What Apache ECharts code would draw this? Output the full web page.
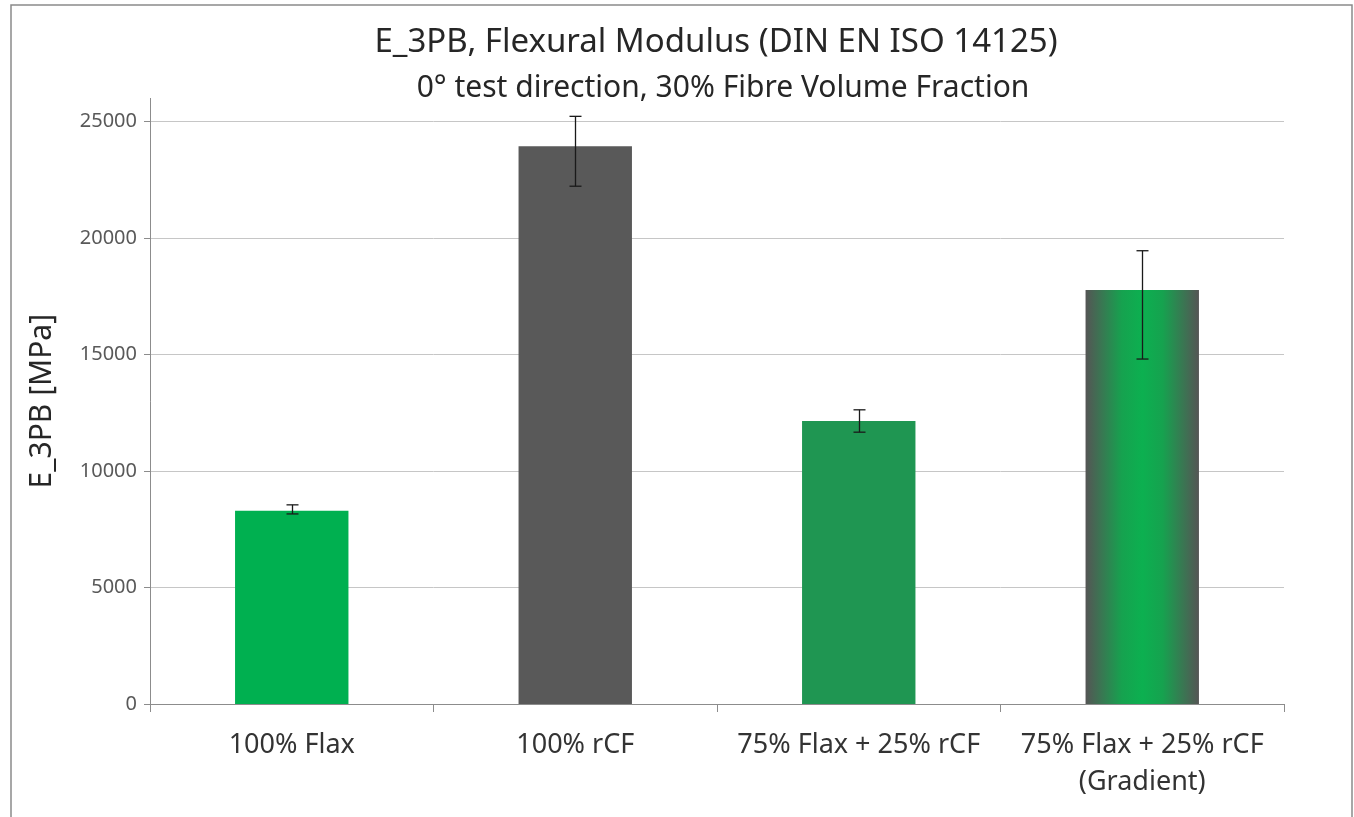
<!DOCTYPE html>
<html>
<head>
<meta charset="utf-8">
<title>E_3PB, Flexural Modulus</title>
<script src="https://cdn.jsdelivr.net/npm/echarts@6/dist/echarts.min.js"></script>
<style>
  html, body { margin: 0; padding: 0; background: #ffffff; }
  #chart { width: 1354px; height: 817px; }
</style>
</head>
<body>
<div id="chart"></div>
<script>
// Flexural modulus by laminate layup (MPa), with upper / lower error extents
const categories = ['100% Flax', '100% rCF', '75% Flax + 25% rCF', '75% Flax + 25% rCF\n(Gradient)'];
const modulus = [8300, 23950, 12150, 17770];
const errPlus = [250, 1280, 480, 1690];
const errMinus = [140, 1720, 480, 2960];
const yTicks = [0, 5000, 10000, 15000, 20000, 25000];

const FONT = '"Noto Sans", "Open Sans", sans-serif';
const GREEN = '#00b050';
const GREY = '#595959';
const DARK_GREEN = '#1f9652';

const barColors = [
  GREEN,
  GREY,
  DARK_GREEN,
  new echarts.graphic.LinearGradient(0, 0, 1, 0, [
    { offset: 0, color: '#555555' },
    { offset: 0.32, color: '#16a24f' },
    { offset: 0.5, color: '#0cb050' },
    { offset: 0.68, color: '#16a24f' },
    { offset: 1, color: '#555555' }
  ])
];

const chart = echarts.init(document.getElementById('chart'), null, { renderer: 'canvas' });

chart.setOption({
  backgroundColor: '#ffffff',
  animation: false,
  title: [
    {
      text: 'E_3PB, Flexural Modulus (DIN EN ISO 14125)',
      left: 711, top: 21, textAlign: 'center',
      textStyle: { fontFamily: FONT, fontSize: 33, fontWeight: 'normal', color: '#262626' }
    },
    {
      text: '0° test direction, 30% Fibre Volume Fraction',
      left: 718, top: 68, textAlign: 'center',
      textStyle: { fontFamily: FONT, fontSize: 30, fontWeight: 'normal', color: '#262626' }
    }
  ],
  graphic: [
    {
      type: 'rect',
      shape: { x: 11, y: 5, width: 1341, height: 816 },
      style: { fill: 'none', stroke: '#8a8a8a', lineWidth: 1.5 },
      silent: true
    }
  ],
  grid: { left: 150, right: 70, top: 98.4, bottom: 113, containLabel: false },
  xAxis: {
    type: 'category',
    data: categories,
    boundaryGap: true,
    axisLine: { show: true, lineStyle: { color: '#8c8c8c', width: 1 } },
    axisTick: { show: true, alignWithLabel: false, length: 8, lineStyle: { color: '#8c8c8c' } },
    axisLabel: {
      interval: 0, margin: 23,
      fontFamily: FONT, fontSize: 27, color: '#333333', lineHeight: 37
    },
    splitLine: { show: false }
  },
  yAxis: {
    type: 'value',
    min: 0, max: 26000, interval: 5000,
    name: 'E_3PB [MPa]',
    nameLocation: 'middle',
    nameGap: 93,
    nameRotate: 90,
    nameTextStyle: { fontFamily: FONT, fontSize: 30, color: '#262626' },
    axisLine: { show: true, lineStyle: { color: '#8c8c8c', width: 1 } },
    axisTick: { show: true, length: 6, customValues: yTicks, lineStyle: { color: '#8c8c8c' } },
    axisLabel: {
      customValues: yTicks, margin: 13,
      formatter: function (v) { return String(v); },
      fontFamily: FONT, fontSize: 20, color: '#595959'
    },
    splitLine: { show: true, customValues: yTicks, lineStyle: { color: '#c6c6c6', width: 1 } }
  },
  series: [
    {
      type: 'bar',
      barWidth: '40%',
      data: modulus.map((v, i) => ({ value: v, itemStyle: { color: barColors[i] } })),
      z: 2
    },
    {
      type: 'custom',
      z: 3,
      data: modulus.map((v, i) => [i, v - errMinus[i], v + errPlus[i]]),
      renderItem: function (params, api) {
        const lo = api.coord([api.value(0), api.value(1)]);
        const hi = api.coord([api.value(0), api.value(2)]);
        const x = Math.round(lo[0]) + 0.5;
        const cap = 6;
        const style = { stroke: '#1a1a1a', lineWidth: 1.3 };
        return {
          type: 'group',
          children: [
            { type: 'line', shape: { x1: x, y1: hi[1], x2: x, y2: lo[1] }, style: style },
            { type: 'line', shape: { x1: x - cap, y1: hi[1], x2: x + cap, y2: hi[1] }, style: style },
            { type: 'line', shape: { x1: x - cap, y1: lo[1], x2: x + cap, y2: lo[1] }, style: style }
          ]
        };
      }
    }
  ]
});
</script>
</body>
</html>
